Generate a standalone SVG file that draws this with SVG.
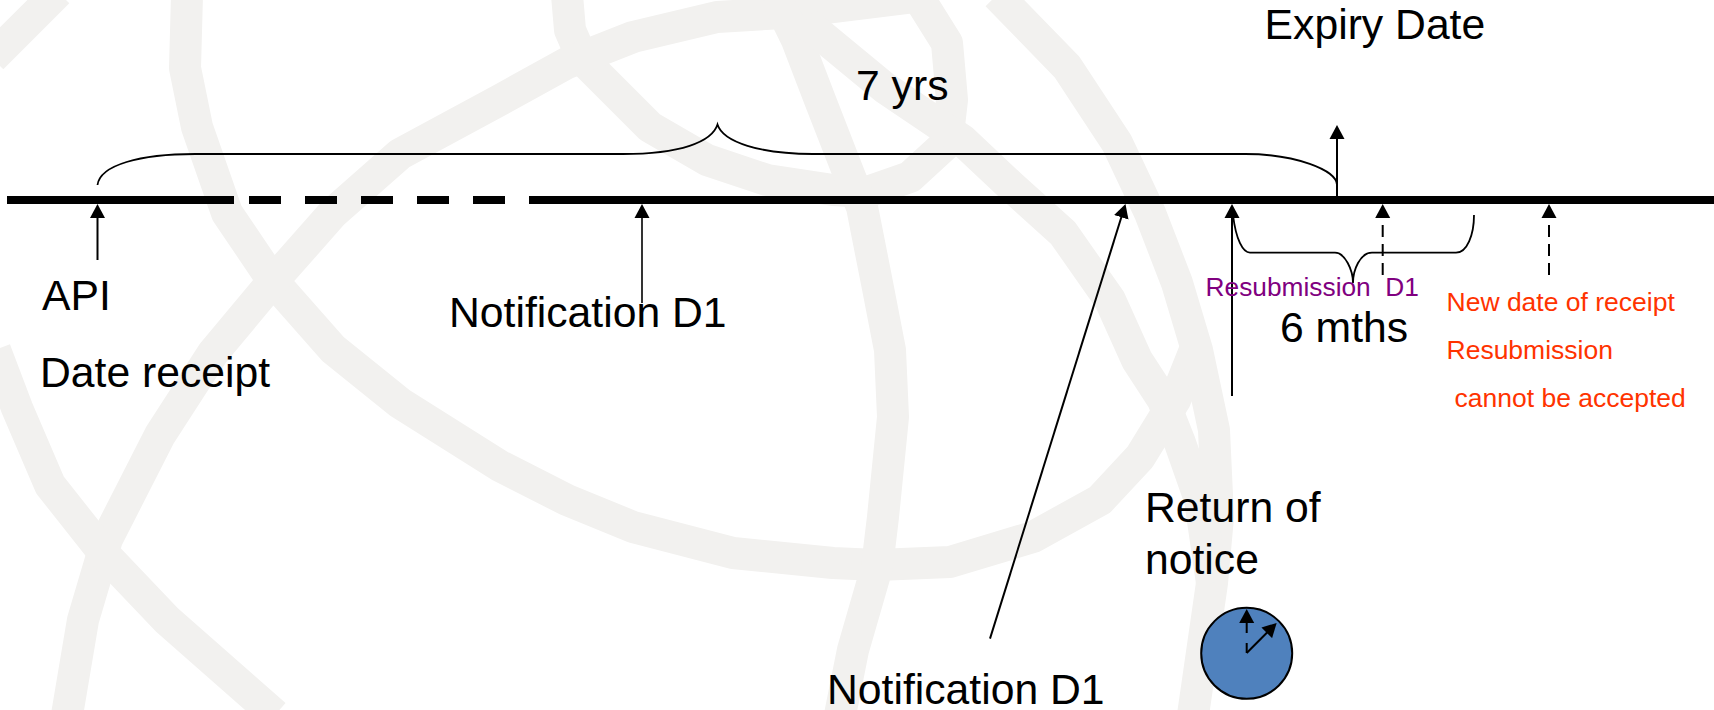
<svg xmlns="http://www.w3.org/2000/svg" width="1714" height="710" viewBox="0 0 1714 710">
<style>
text{font-family:"Liberation Sans",Arial,sans-serif;font-size:42.700px;fill:#000}
.wm{fill:none;stroke:#f2f1ef;stroke-width:32;stroke-linejoin:round}
.tl{fill:none;stroke:#000;stroke-width:8}
.ar{fill:none;stroke:#000;stroke-width:2;marker-end:url(#h)}
.da{stroke-dasharray:12 7}
.br{fill:none;stroke:#000;stroke-width:1.800}
.pu{font-size:26.300px;fill:#800080}
.re{font-size:26.500px;fill:#ff3300}
</style>
<defs>
<marker id="h" markerUnits="userSpaceOnUse" markerWidth="16" markerHeight="16" refX="4" refY="8" orient="auto"><path d="M0 0.500L14 8L0 15.500Z" fill="#000"/></marker>
</defs>
<rect width="1714" height="710" fill="#fff"/>
<g id="watermark">
<path class="wm" d="M187 -5L185 68L197 127L227 213L273 281L333 349L400 403L500 466L567 500L633 527L733 553L833 563L877 565L950 562L1033 537L1100 500L1140 457L1175 400L1197 345"/>
<path class="wm" d="M567 -5L570 30L583 60L600 77L650 127L707 160L767 180L833 190L867 192L910 177L947 143L952 100L947 43L917 -5"/>
<path class="wm" d="M67 715L83 620L107 539L160 435L213 353L273 281L333 213L400 154L500 100L567 63L633 37L717 17L783 13L833 7L930 -5"/>
<path class="wm" d="M-5 350L17 408L50 485L107 557L167 620L275 715"/>
<path class="wm" d="M58 -8L-8 58"/>
<path class="wm" d="M775 -5L797 40L820 100L850 177L862 207L877 283L890 350L893 417L883 517L877 567L853 650L840 715"/>
<path class="wm" d="M997 -5L1067 67L1117 143L1150 213L1177 283L1197 350L1214 430L1218 517L1212 583L1193 715"/>
<path class="wm" d="M805 22L885 88L962 140L1012 187L1063 233L1110 300L1137 360L1163 400L1180 443L1200 500L1212 583"/>
</g>
<g id="connectors">
<path class="tl" d="M7 200H234M249 200H281M305 200H337M361 200H393M417 200H449M473 200H505M529 200H1714"/>
<path class="ar" d="M97.500 260V214"/>
<path class="ar" d="M642 303V214" style="stroke-width:1.600"/>
<path class="ar" d="M990 638.600L1122.500 213.500"/>
<path class="ar" d="M1232 396V214"/>
<path class="ar" d="M1337 196V135"/>
<path class="ar da" d="M1382.700 275V214"/>
<path class="ar da" d="M1549 275V214"/>
<path class="br" d="M97.500 185C100 165 140 154 195 154H623C680 154 712 142 717.500 124.500C723 142 760 154 813 154H1245C1295 154 1337 170 1337 185"/>
<path class="br" d="M1233 215C1236 240 1243 252.700 1250 252.700H1335C1345 252.700 1353 270 1353 283C1353 270 1360 252.700 1372 252.700H1456C1467 252.700 1474 235 1474 215"/>
</g>
<g id="n-expiry"><text x="1264.600" y="39">Expiry Date</text></g>
<g id="n-7yrs"><text x="856" y="99.500">7 yrs</text></g>
<g id="n-api"><text x="42" y="310">API</text><text x="40" y="387">Date receipt</text></g>
<g id="n-notif1"><text x="449" y="327">Notification D1</text></g>
<g id="n-notif2"><text x="827" y="704">Notification D1</text></g>
<g id="n-return"><text x="1145" y="522">Return of</text><text x="1145" y="574">notice</text></g>
<g id="n-6mths"><text x="1280" y="341.500">6 mths</text></g>
<g id="n-resub"><text class="pu" x="1205.600" y="296" xml:space="preserve">Resubmission  D1</text></g>
<g id="n-new"><text class="re" x="1446.500" y="310.700">New date of receipt</text><text class="re" x="1446.500" y="358.700">Resubmission</text><text class="re" x="1454.500" y="406.700">cannot be accepted</text></g>
<g id="n-clock">
<ellipse cx="1246.700" cy="653.300" rx="45.500" ry="45.500" fill="#4f81bd" stroke="#000" stroke-width="2"/>
<path d="M1246.700 653V643" fill="none" stroke="#000" stroke-width="2"/>
<path class="ar" d="M1246.700 633V619"/>
<path class="ar" d="M1246.700 653L1269.600 630"/>
</g>
</svg>
